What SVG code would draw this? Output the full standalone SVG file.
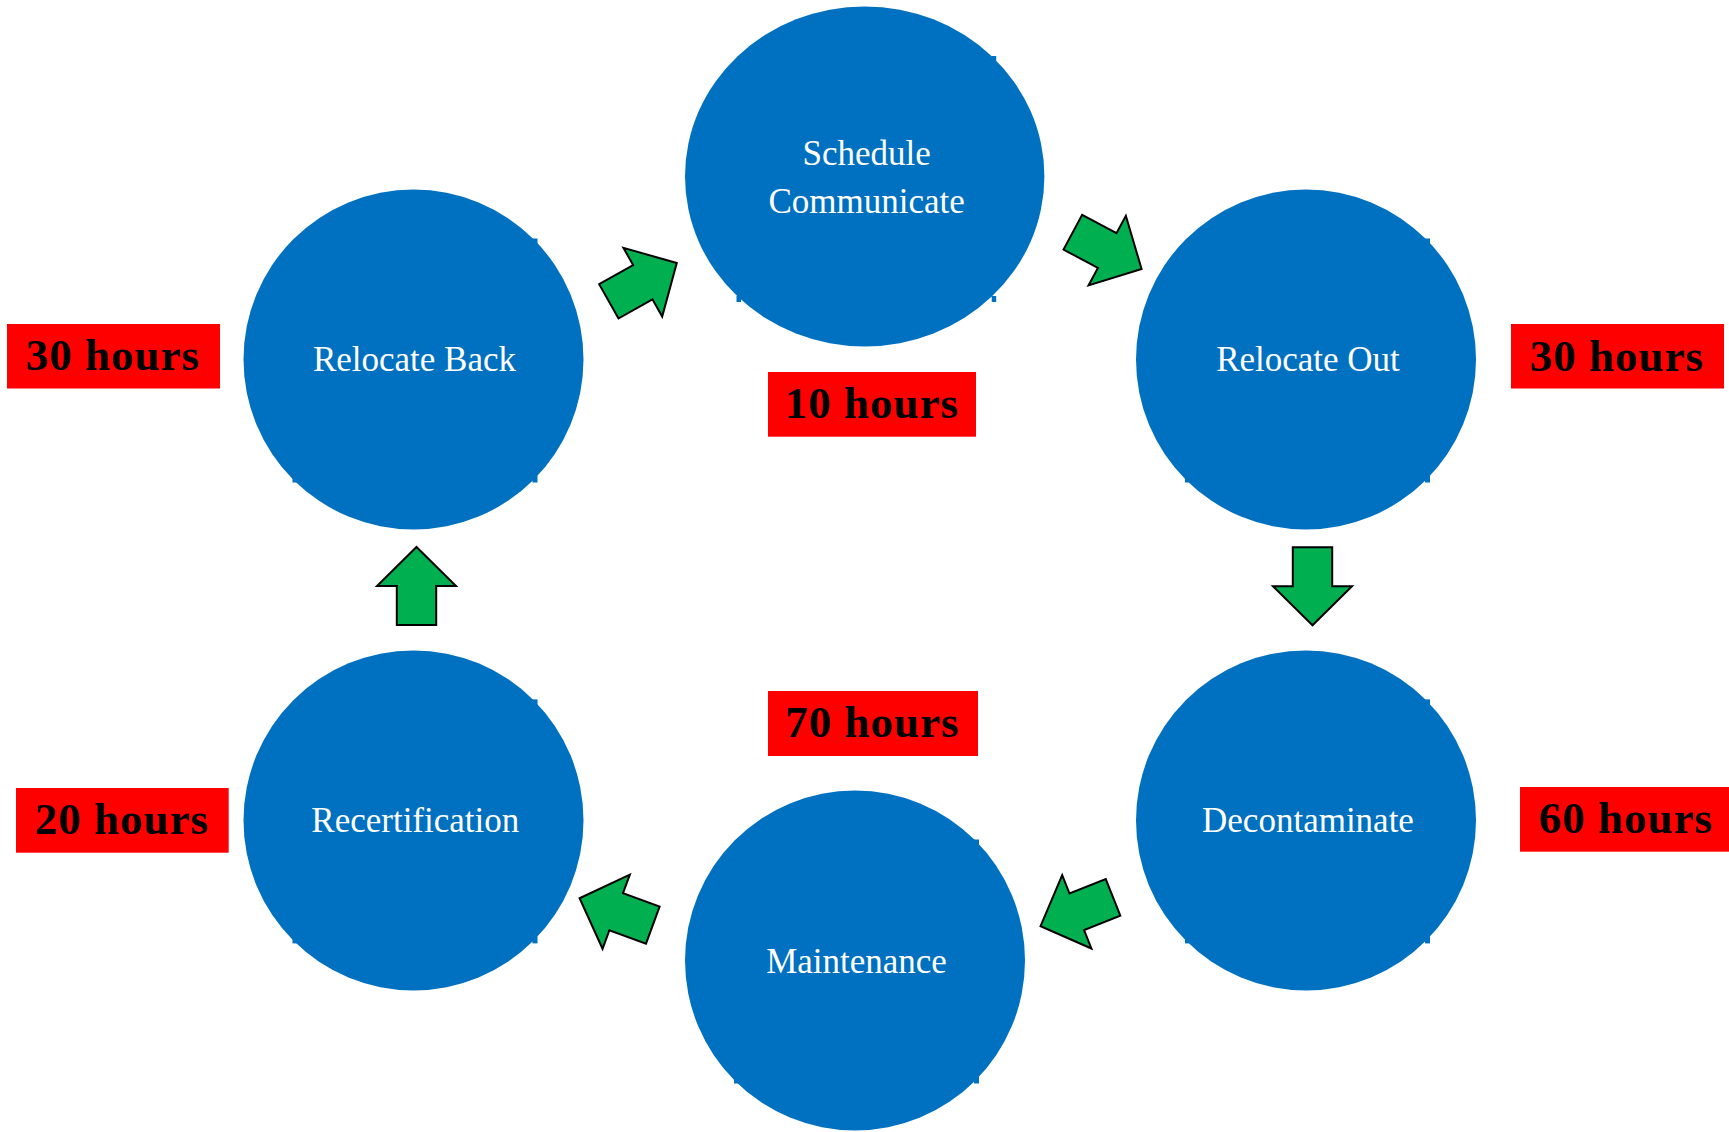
<svg xmlns="http://www.w3.org/2000/svg" xmlns:xlink="http://www.w3.org/1999/xlink" width="1729" height="1132" viewBox="0 0 1729 1132">
  <style>
    .node { fill: #0070C0; }
    .lbl { fill: #FFFFFF; font-family: "Liberation Serif", "Times New Roman", serif; font-size: 35px; text-anchor: middle; }
    .box { fill: #FF0000; }
    .hrs { fill: #000000; font-family: "Liberation Serif", "Times New Roman", serif; font-size: 45px; font-weight: bold; text-anchor: middle; letter-spacing: 1px; }
    .arrow { fill: #00B050; stroke: #000000; stroke-width: 2; stroke-linejoin: miter; }
  </style>
  <defs>
    <path id="blockArrow" class="arrow" d="M0,-39 L39.5,0 L19.7,0 L19.7,39 L-19.7,39 L-19.7,0 L-39.5,0 Z"/>
  </defs>
  <rect width="1729" height="1132" fill="#FFFFFF"/>

  <g id="node-schedule">
    <ellipse class="node" cx="864.7" cy="176.4" rx="179.7" ry="170"/>
    <rect class="node" x="991.7" y="56" width="4.5" height="6"/>
    <rect class="node" x="991.7" y="296" width="4.5" height="6"/>
    <rect class="node" x="736.5" y="296" width="4.5" height="6"/>
    <text class="lbl" x="866.7" y="165">Schedule</text>
    <text class="lbl" x="866.7" y="212.7">Communicate</text>
  </g>

  <g id="node-relocate-back">
    <circle class="node" cx="413.5" cy="359.5" r="170"/>
    <rect class="node" x="532.5" y="238.5" width="5" height="6"/>
    <rect class="node" x="532.5" y="475.5" width="5" height="7"/>
    <rect class="node" x="292.5" y="476.5" width="5" height="6"/>
    <text class="lbl" x="414.5" y="371">Relocate Back</text>
  </g>

  <g id="node-relocate-out">
    <circle class="node" cx="1306" cy="359.5" r="170"/>
    <rect class="node" x="1425" y="238.5" width="5" height="6"/>
    <rect class="node" x="1425" y="475.5" width="5" height="7"/>
    <rect class="node" x="1185" y="476.5" width="5" height="6"/>
    <text class="lbl" x="1308" y="371">Relocate Out</text>
  </g>

  <g id="node-decontaminate">
    <circle class="node" cx="1306" cy="820.4" r="170"/>
    <rect class="node" x="1425" y="699.4" width="5" height="6"/>
    <rect class="node" x="1425" y="936.4" width="5" height="7"/>
    <rect class="node" x="1185" y="937.4" width="5" height="6"/>
    <text class="lbl" x="1308" y="832">Decontaminate</text>
  </g>

  <g id="node-maintenance">
    <circle class="node" cx="855" cy="960.5" r="170"/>
    <rect class="node" x="974" y="839.5" width="5" height="6"/>
    <rect class="node" x="974" y="1076.5" width="5" height="7"/>
    <rect class="node" x="734" y="1077.5" width="5" height="6"/>
    <text class="lbl" x="856.5" y="972.5">Maintenance</text>
  </g>

  <g id="node-recertification">
    <circle class="node" cx="413.5" cy="820.4" r="170"/>
    <rect class="node" x="532.5" y="699.4" width="5" height="6"/>
    <rect class="node" x="532.5" y="936.4" width="5" height="7"/>
    <rect class="node" x="292.5" y="937.4" width="5" height="6"/>
    <text class="lbl" x="415.3" y="831.7">Recertification</text>
  </g>

  <g id="label-relocate-back-hours">
    <rect class="box" x="7" y="324" width="213" height="64.5"/>
    <text class="hrs" x="113" y="370">30 hours</text>
  </g>
  <g id="label-schedule-hours">
    <rect class="box" x="768" y="372" width="208" height="64.7"/>
    <text class="hrs" x="872" y="417.5">10 hours</text>
  </g>
  <g id="label-relocate-out-hours">
    <rect class="box" x="1511" y="324" width="213" height="64.5"/>
    <text class="hrs" x="1617" y="370.5">30 hours</text>
  </g>
  <g id="label-decontaminate-hours">
    <rect class="box" x="1520" y="787" width="209" height="64.7"/>
    <text class="hrs" x="1626" y="833.3">60 hours</text>
  </g>
  <g id="label-maintenance-hours">
    <rect class="box" x="768" y="691" width="210" height="65"/>
    <text class="hrs" x="872.5" y="737.3">70 hours</text>
  </g>
  <g id="label-recertification-hours">
    <rect class="box" x="16" y="788" width="212.7" height="64.7"/>
    <text class="hrs" x="122" y="834">20 hours</text>
  </g>

  <g id="connectors">
    <use xlink:href="#blockArrow" href="#blockArrow" transform="translate(642.8,282.2) rotate(60.6)"/>
    <use xlink:href="#blockArrow" href="#blockArrow" transform="translate(1107.2,250.6) rotate(118.2)"/>
    <use xlink:href="#blockArrow" href="#blockArrow" transform="translate(1312.5,586.3) rotate(180)"/>
    <use xlink:href="#blockArrow" href="#blockArrow" transform="translate(1076.8,911.8) rotate(248.3)"/>
    <use xlink:href="#blockArrow" href="#blockArrow" transform="translate(616.2,911.7) rotate(290.2)"/>
    <use xlink:href="#blockArrow" href="#blockArrow" transform="translate(416.5,586) rotate(0)"/>
  </g>
</svg>
